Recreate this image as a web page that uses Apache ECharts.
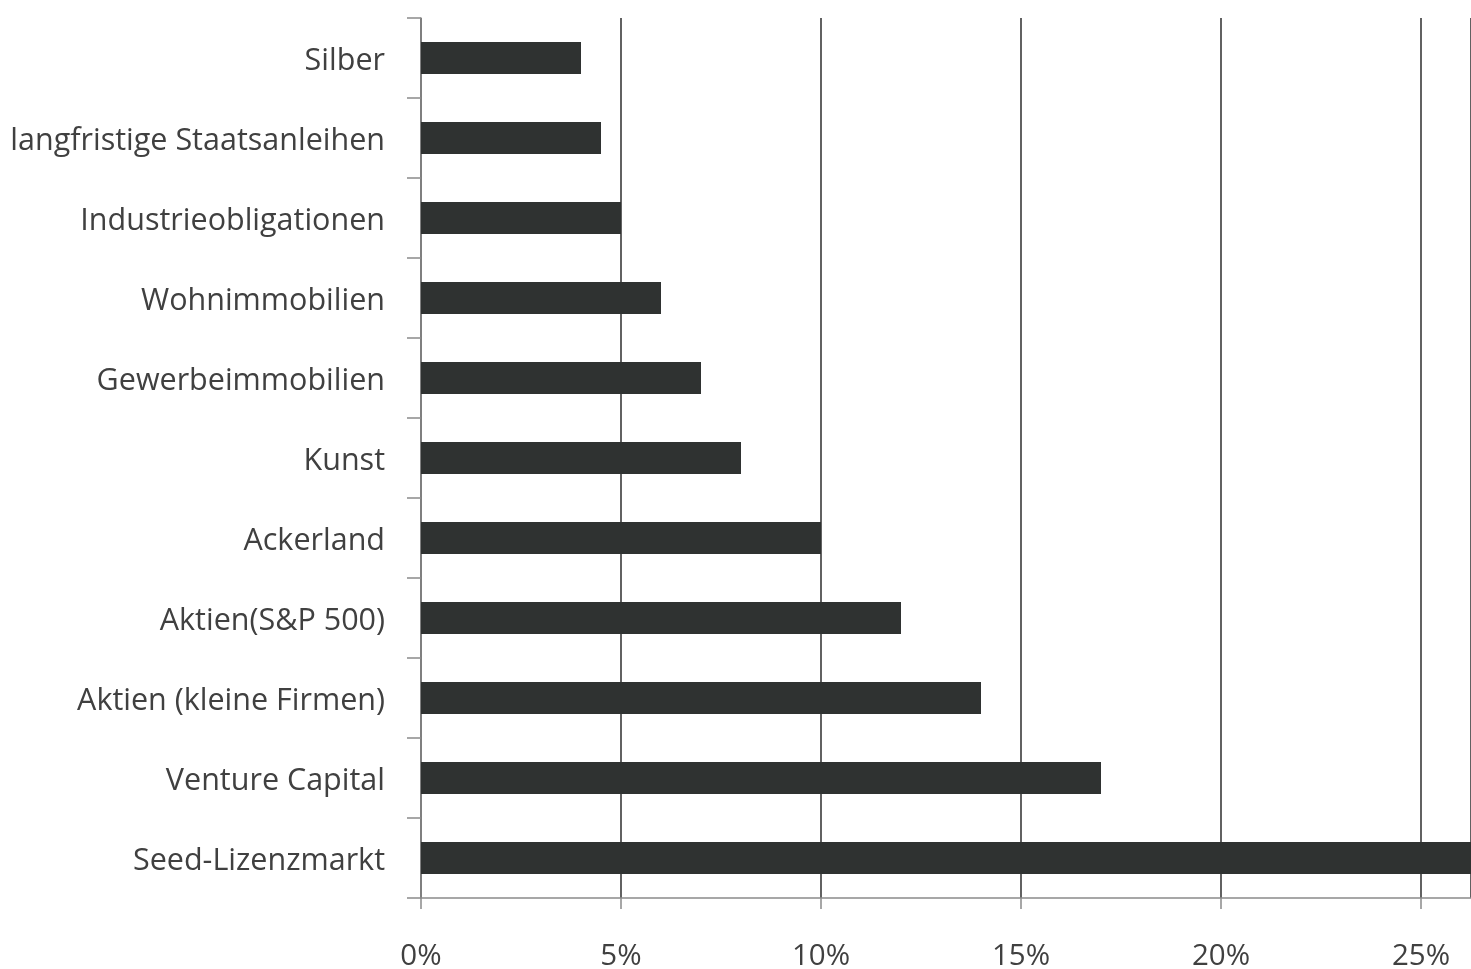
<!DOCTYPE html>
<html><head><meta charset="utf-8">
<script src="https://cdn.jsdelivr.net/npm/echarts@6/dist/echarts.min.js"></script>
<style>html,body{margin:0;padding:0;background:#fff}#c{width:1471px;height:969px}</style>
</head><body><div id="c"></div>
<script>
const categories = ["Silber","langfristige Staatsanleihen","Industrieobligationen","Wohnimmobilien","Gewerbeimmobilien","Kunst","Ackerland","Aktien(S&P 500)","Aktien (kleine Firmen)","Venture Capital","Seed-Lizenzmarkt"];
const values = [4, 4.5, 5, 6, 7, 8, 10, 12, 14, 17, 26.3];
const xTicks = [0, 5, 10, 15, 20, 25];

const chart = echarts.init(document.getElementById('c'), null, {renderer:'canvas'});
const font = '"Open Sans", sans-serif';
chart.setOption({
  animation:false,
  grid:{left:421, right:0, top:18, bottom:71, containLabel:false, outerBoundsMode:'none'},
  xAxis:{
    type:'value', min:0, max:26.25, interval:5,
    axisLine:{show:true, lineStyle:{color:'#8a8a8a', width:1.5}},
    axisTick:{show:true, length:11, lineStyle:{color:'#8a8a8a', width:1.5}},
    splitLine:{show:true, lineStyle:{color:'#3a3a3a', width:1.6}},
    axisLabel:{margin:44, color:'#404040', fontFamily:font, fontSize:29.5, showMaxLabel:false,
      formatter:v => xTicks.includes(v) ? v + '%' : ''}
  },
  yAxis:{
    type:'category', data:categories, inverse:true,
    axisLine:{show:true, lineStyle:{color:'#8a8a8a', width:1.5}},
    axisTick:{show:true, length:14, alignWithLabel:false, lineStyle:{color:'#8a8a8a', width:1.5}},
    splitLine:{show:false},
    axisLabel:{margin:36, color:'#404040', fontFamily:font, fontSize:30.5,
      formatter:v => '{a|' + v + '}',
      rich:{a:{fontFamily:font, fontSize:30.5, color:'#404040', padding:[6,0,0,0]}}}
  },
  series:[{
    type:'bar', data:values, barWidth:'40%', clip:true,
    itemStyle:{color:'#2f3231'}
  }]
});
</script></body></html>
